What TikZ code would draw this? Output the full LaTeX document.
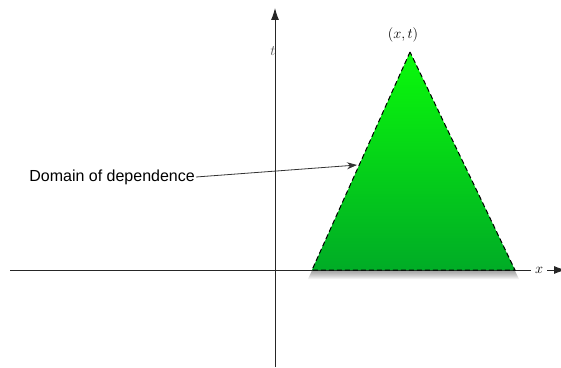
\documentclass[tikz,border=0pt]{standalone}
\usepackage{fontspec}
\newfontfamily\labelfont{Liberation Sans}
\usetikzlibrary{arrows.meta,shadings}
\definecolor{gtop}{RGB}{10,250,10}
\definecolor{gbot}{RGB}{0,172,38}
\tikzset{
  axis/.style={draw=black!85, line width=0.9pt},
  axislabel/.style={fill=white, inner sep=0.4pt, font=\fontsize{14}{16}\selectfont},
  domainfill/.style={draw=black, dash pattern=on 5pt off 3pt, line width=1pt, top color=gtop, bottom color=gbot},
  callout/.style={draw=black!80, line width=0.8pt, -{Stealth[length=10pt,width=7pt]}}
}
\begin{document}
\begin{tikzpicture}[x=1pt,y=1pt]
\useasboundingbox (0,0) rectangle (561,367);
% coordinates (y = 367 - pixel y)
\coordinate (yb) at (275,0);
\coordinate (yt) at (275,359);
\coordinate (xl) at (10,97);
\coordinate (xr) at (566,97);
\coordinate (A) at (410,315);
\coordinate (B) at (312,97);
\coordinate (C) at (515,97);
% shadow
\foreach \k in {1,...,8}{
  \fill[black, opacity=0.05] ([xshift=-\k*0.4pt,yshift=-1pt-\k*0.9pt]A) -- ([xshift=-\k*0.5pt,yshift=-1pt-\k*1pt]B) -- ([xshift=\k*0.5pt,yshift=-1pt-\k*1pt]C) -- cycle;
}
\node[font=\fontsize{14}{16}\selectfont, text=black!70, inner sep=0pt] (tl) at (273,316) {$t$};
\draw[axis,-{Latex[length=12pt,width=8pt]}] (xl) -- (xr);
\draw[axis,-{Latex[length=12pt,width=8pt]}] (yb) -- (yt);
\path[domainfill] (A) -- (B) -- (C) -- cycle;
\node[axislabel, fill=white, inner xsep=4pt] (xlab) at (539,97) {$x$};
\node[font=\fontsize{15}{17}\selectfont] (apex) at (403,332) {$(x,t)$};
\node[font=\labelfont\fontsize{16}{19}\selectfont, inner sep=1pt, anchor=east] (dom) at (196,190) {Domain of dependence};
\coordinate (tip) at (357,202);
\draw[callout] (dom.east) -- (tip);
\end{tikzpicture}
\end{document}
